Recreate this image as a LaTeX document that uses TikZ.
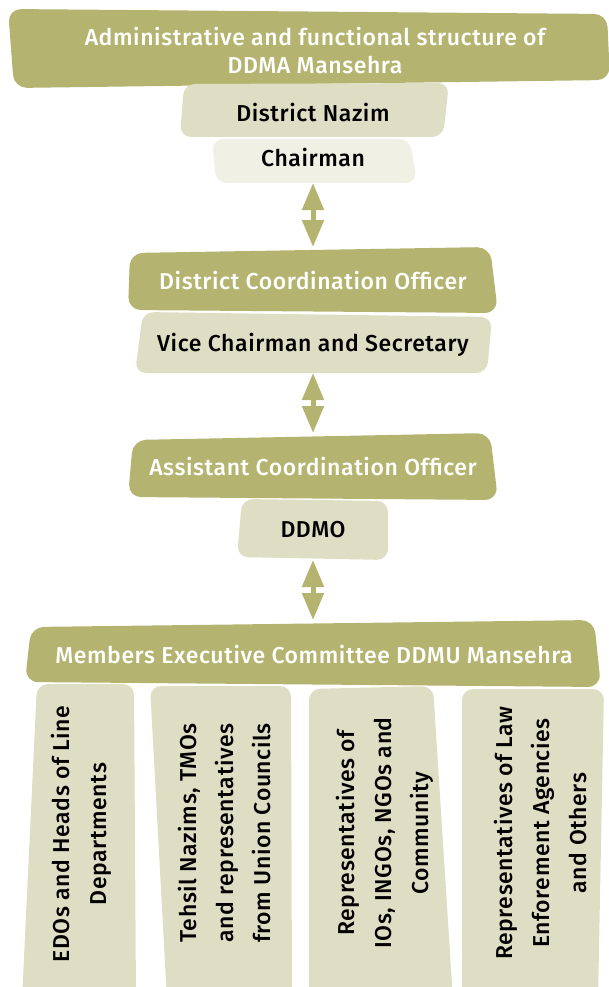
\documentclass[tikz,border=0pt]{standalone}
\usepackage{fontspec}
\setmainfont{Fira Sans Medium}[LetterSpace=2.5]
\usetikzlibrary{arrows.meta}
\tikzset{>={Triangle[length=27pt,width=21pt]}}
\definecolor{olivebox}{HTML}{B4B470}
\definecolor{palebox}{HTML}{DEDEC4}
\definecolor{palerbox}{HTML}{F0F0E4}

\begin{document}
\begin{tikzpicture}[x=1pt,y=-1pt]
      \tikzstyle{darkbox}=[fill=olivebox,rounded corners=13pt];
      \tikzstyle{lightbox}=[fill=palebox,rounded corners=11pt];
      \tikzstyle{palerbox}=[fill=palerbox,rounded corners=11pt];
      \tikzstyle{whitetxt}=[white,align=center,font=\fontsize{23}{28}\selectfont];
      \tikzstyle{blacktxt}=[black,align=center,font=\fontsize{23}{28}\selectfont];
      \tikzstyle{coltxt}=[black,align=center,rotate=90,font=\fontsize{23}{37}\selectfont];
      \tikzstyle{link}=[olivebox,line width=5pt,<->];
      \useasboundingbox (0,0) rectangle (609,987);

      \fill[darkbox](8,9)--(607,14)--(610,80)--(14,88)--cycle;
      \node[whitetxt] (title) at (315,51) {Administrative and functional structure of\\DDMA Mansehra};
      \fill[lightbox](184,84)--(449,83)--(443,137)--(180,137)--cycle;
      \node[blacktxt] (nazim) at (313,113) {District Nazim};
      \fill[palerbox](212,139)--(410,139)--(417,183)--(216,183)--cycle;
      \node[blacktxt] (chair) at (313,158) {Chairman};

      \fill[lightbox](143,312)--(492,317)--(487,373)--(135,373)--cycle;
      \node[blacktxt] (vice) at (313,345) {Vice Chairman and Secretary};
      \fill[darkbox](130,253)--(490,247)--(498,313)--(128,310)--cycle;
      \node[whitetxt] (dco) at (313,281) {District Coordination Officer};

      \fill[lightbox](242,499)--(388,501)--(388,560)--(237,557)--cycle;
      \node[blacktxt] (ddmo) at (313,530) {DDMO};
      \fill[darkbox](133,440)--(490,433)--(498,500)--(128,497)--cycle;
      \node[whitetxt] (aco) at (313,467) {Assistant Coordination Officer};

      \fill[lightbox](37,684)--(134,684)--(136,1000)--(22,1000)--cycle;
      \node[coltxt] (edo) at (81,834) {EDOs and Heads of Line\\Departments};
      \fill[lightbox](150,686)--(291,686)--(292,1000)--(167,1000)--cycle;
      \node[coltxt] (tehsil) at (225,833) {Tehsil Nazims, TMOs\\and representatives\\from Union Councils};
      \fill[lightbox](309,689)--(433,686)--(453,1000)--(309,1000)--cycle;
      \node[coltxt] (ngo) at (385,833) {Representatives of\\IOs, INGOs, NGOs and\\Community};
      \fill[lightbox](462,689)--(604,689)--(598,1000)--(462,1000)--cycle;
      \node[coltxt] (law) at (540,833) {Representatives of Law\\Enforement Agencies\\and Others};
      \fill[darkbox](31,627)--(594,620)--(601,687)--(25,682)--cycle;
      \node[whitetxt] (members) at (314,654) {Members Executive Committee DDMU Mansehra};

      \coordinate (chair-b) at (313,183);
      \coordinate (dco-t) at (313,247);
      \coordinate (vice-b) at (313,373);
      \coordinate (aco-t) at (313,433);
      \coordinate (ddmo-b) at (313,560);
      \coordinate (members-t) at (313,620);
      \draw[link](chair-b)--(dco-t);
      \draw[link](vice-b)--(aco-t);
      \draw[link](ddmo-b)--(members-t);
\end{tikzpicture}
\end{document}
